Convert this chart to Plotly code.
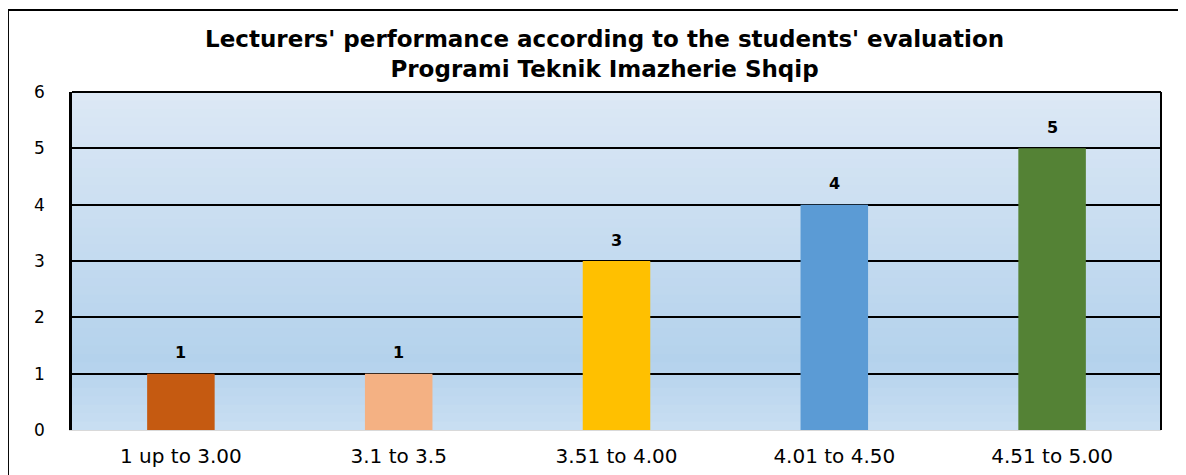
import plotly.graph_objects as go

categories = ["1 up to 3.00", "3.1 to 3.5", "3.51 to 4.00", "4.01 to 4.50", "4.51 to 5.00"]
counts = [1, 1, 3, 4, 5]
bar_colors = ["#C55A11", "#F4B183", "#FFC000", "#5B9BD5", "#548235"]

fig = go.Figure(go.Bar(
    x=categories, y=counts,
    marker=dict(color=bar_colors, line=dict(width=0)),
))

# value labels above the bars
for c, v in zip(categories, counts):
    fig.add_annotation(x=c, y=v, text="<b>%d</b>" % v, showarrow=False,
                       yanchor="middle", yshift=21,
                       font=dict(family="DejaVu Sans", size=16, color="black"))

# plot background gradient approximated with bands
shapes = []
n = 40
for i in range(n):
    t = i / (n - 1)
    if t < 0.8:
        f = t / 0.8
        c0, c1 = (220, 232, 245), (180, 210, 236)
    else:
        f = (t - 0.8) / 0.2
        c0, c1 = (180, 210, 236), (200, 222, 242)
    col = tuple(round(a + (b - a) * f) for a, b in zip(c0, c1))
    shapes.append(dict(type="rect", xref="paper", yref="paper", layer="below",
                       x0=0, x1=1, y0=max(0, 1 - (i + 1) / n - 0.004), y1=1 - i / n,
                       fillcolor="rgb(%d,%d,%d)" % col, line=dict(width=0)))
# outer frame
shapes.append(dict(type="rect", xref="paper", yref="paper", layer="below",
                   x0=-0.0588, x1=1.05, y0=-0.2, y1=1.2426,
                   line=dict(color="black", width=2)))
# top and right border of plot area
shapes.append(dict(type="line", xref="paper", yref="paper", x0=0, x1=1, y0=1, y1=1,
                   line=dict(color="black", width=2)))
shapes.append(dict(type="line", xref="paper", yref="paper", x0=1, x1=1, y0=0, y1=1,
                   line=dict(color="black", width=2)))

fig.update_layout(
    width=1186, height=475,
    margin=dict(l=64, r=33, t=84, b=53),
    paper_bgcolor="white", plot_bgcolor="rgba(0,0,0,0)",
    shapes=shapes,
    bargap=0.69, showlegend=False,
    title=dict(
        text="<b>Lecturers' performance according to the students' evaluation<br>Programi Teknik Imazherie Shqip</b>",
        xref="container", x=0.503, xanchor="center",
        yref="container", y=0.918, yanchor="top",
        font=dict(family="DejaVu Sans", size=23, color="black"),
    ),
    xaxis=dict(showgrid=False, showline=True, linecolor="#d9d9d9", linewidth=1,
               ticks="", automargin=False, ticklabelstandoff=8,
               tickfont=dict(family="DejaVu Sans", size=20, color="black")),
    yaxis=dict(range=[0, 6], dtick=1, showgrid=True, gridcolor="black", gridwidth=1.5,
               showline=True, linecolor="black", linewidth=2.5,
               zeroline=False, ticks="", ticklabelstandoff=21, automargin=False,
               tickfont=dict(family="DejaVu Sans", size=17, color="black")),
)

fig.write_html("out.html")
